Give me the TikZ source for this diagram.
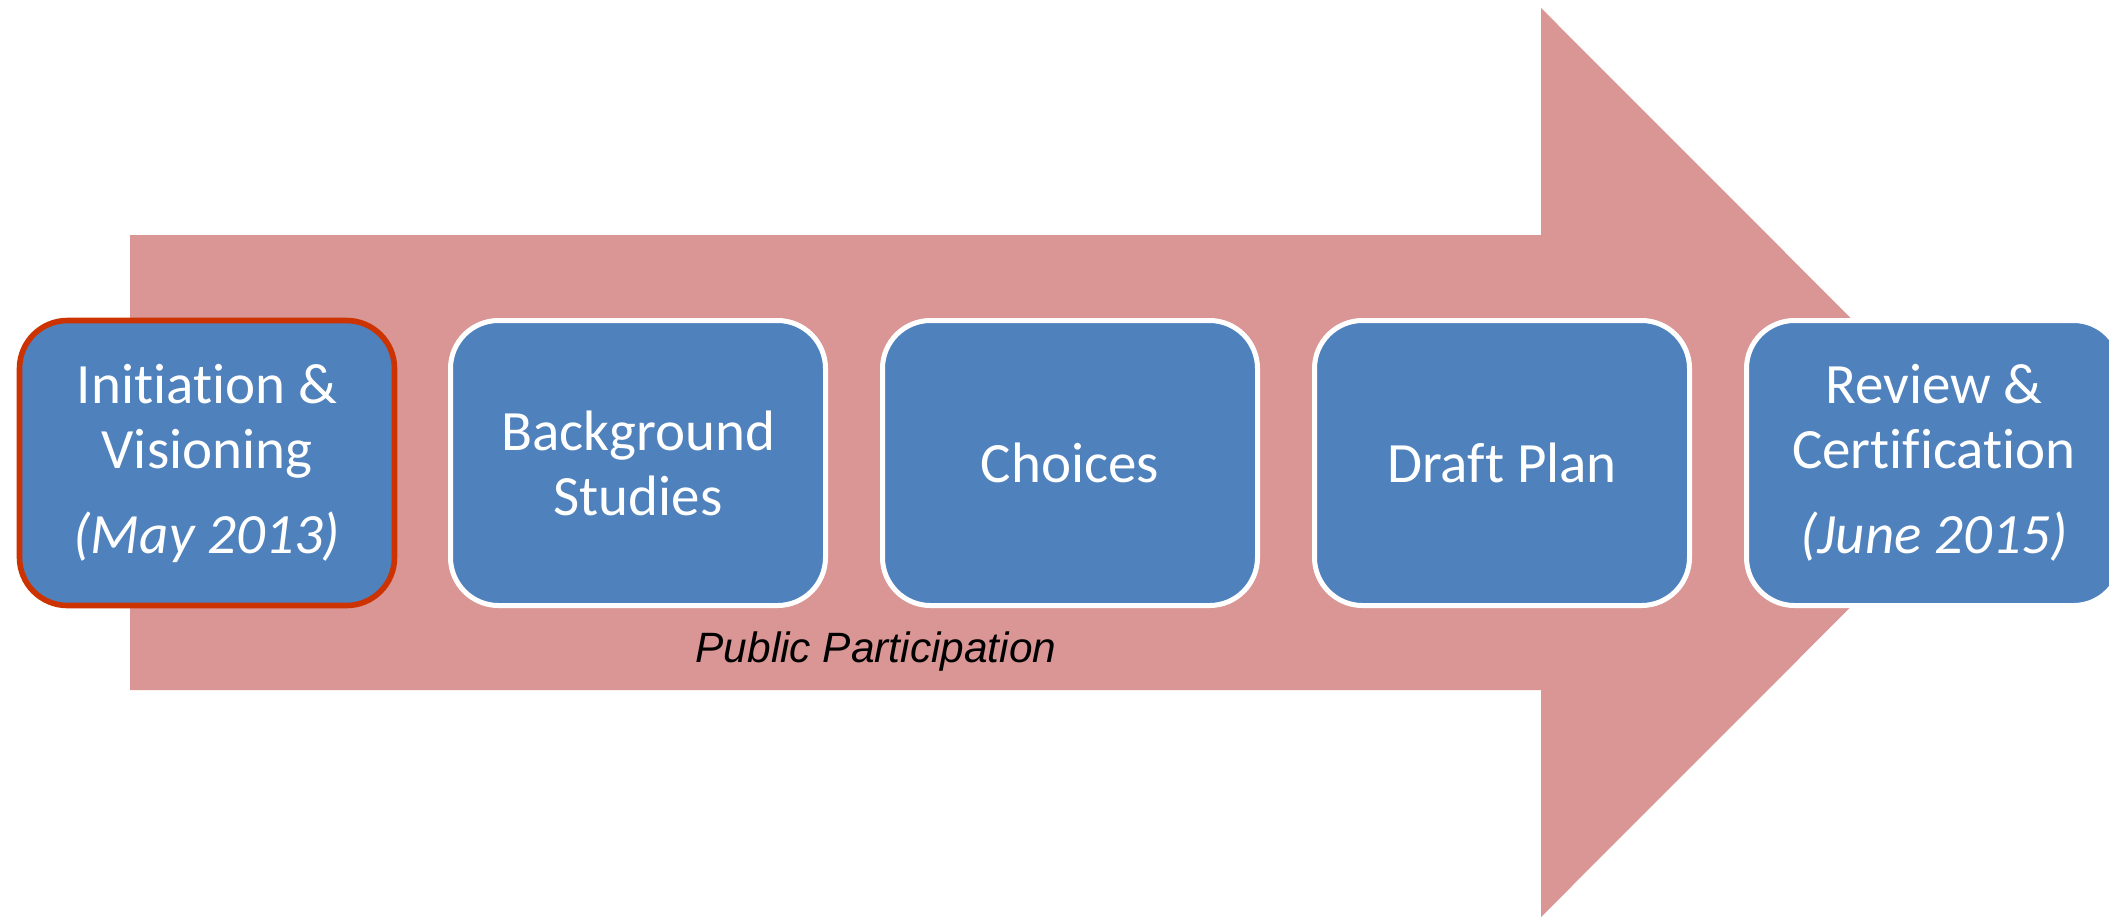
\documentclass[tikz,border=0pt]{standalone}
\usepackage{fontspec}
\setmainfont[Ligatures={NoCommon,NoDiscretionary,NoRare}]{Carlito}
\newfontfamily\arialfont{Liberation Sans}
\definecolor{arrowpink}{HTML}{D99694}
\definecolor{boxblue}{HTML}{4F81BD}
\definecolor{redborder}{RGB}{204,51,0}
\begin{document}
\begin{tikzpicture}[x=0.5pt,y=-0.5pt,
  stage/.style={shape=rectangle, rounded corners=24pt, draw=white, line width=2.5pt,
    fill=boxblue, text=white, minimum width=187.5pt, minimum height=142.5pt,
    align=center, inner sep=0pt, font=\fontsize{28.5}{32.5}\selectfont},
  bandlabel/.style={font=\arialfont\itshape\fontsize{21.2}{25}\selectfont, text=black}]
\useasboundingbox (0,0) rectangle (2109,916);
\clip (0,0) rectangle (2109,916);
\fill[white] (0,0) rectangle (2109,916);
\fill[arrowpink] (130,235) -- (1541,235) -- (1541,8) -- (1995,462.5) -- (1541,917)
  -- (1541,690) -- (130,690) -- cycle;
\node[stage, draw=redborder, line width=2.8pt] (s1) at (207,463) {Initiation \&\\Visioning\\[10pt]\textit{(May 2013)}};
\node[stage] (s2) at (638,463) {Background\\Studies};
\node[stage] (s3) at (1070,463) {Choices};
\node[stage] (s4) at (1502,463) {Draft Plan};
\node[stage] (s5) at (1934,463) {Review \&\\Certification\\[10pt]\textit{(June 2015)}};
\node[bandlabel] (pp) at (876,652) {Public Participation};
\end{tikzpicture}
\end{document}
